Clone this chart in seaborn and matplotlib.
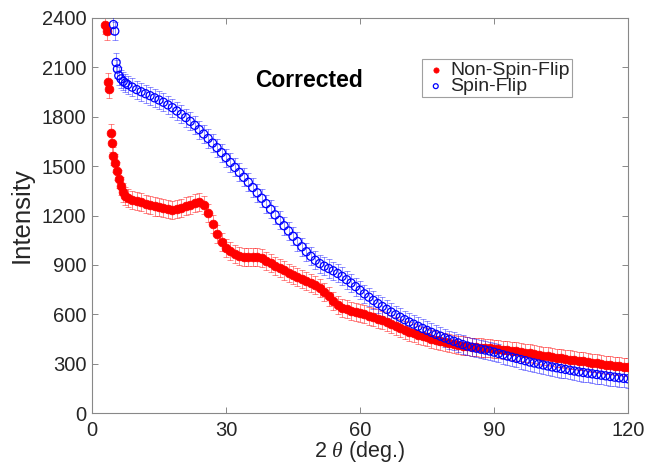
import numpy as np
import pandas as pd
import matplotlib
matplotlib.use("Agg")
import matplotlib.pyplot as plt
import seaborn as sns

# ---- data ----
nsf_x = [3.0, 3.3, 3.6, 3.9, 4.2, 4.5, 4.8, 5.1, 5.5, 6.0, 6.5, 7.0, 7.5,
         8, 9, 10, 11, 12, 13, 14, 15, 16, 17, 18, 19, 20, 21, 22, 23, 24, 25,
         26, 27, 28, 29, 30, 31, 32, 33, 34, 35, 36, 37, 38, 39, 40, 41, 42, 43,
         44, 45, 46, 47, 48, 49, 50, 51, 52, 53, 54, 55, 56, 57, 58, 59, 60, 61,
         62, 63, 64, 65, 66, 67, 68, 69, 70, 71, 72, 73, 74, 75, 76, 77, 78, 79,
         80, 81, 82, 83, 84, 85, 86, 87, 88, 89, 90, 91, 92, 93, 94, 95, 96, 97,
         98, 99, 100, 101, 102, 103, 104, 105, 106, 107, 108, 109, 110, 111,
         112, 113, 114, 115, 116, 117, 118, 119, 120]
nsf_y = [2360, 2320, 2010, 1970, 1700, 1640, 1560, 1520, 1470, 1420, 1380, 1340, 1320,
         1305, 1295, 1290, 1280, 1270, 1262, 1255, 1250, 1245, 1240, 1236, 1240, 1248,
         1258, 1266, 1275, 1280, 1265, 1215, 1150, 1090, 1040, 1005, 985, 965, 952,
         946, 946, 950, 950, 940, 925, 910, 895, 880, 866, 852, 840, 826, 813, 802,
         790, 776, 757, 735, 708, 680, 656, 640, 630, 622, 615, 610, 602, 592, 582,
         574, 564, 552, 541, 530, 518, 506, 495, 486, 476, 468, 460, 452, 445, 438,
         431, 425, 420, 415, 410, 405, 402, 400, 398, 396, 394, 391, 388, 385, 381,
         378, 374, 370, 366, 362, 357, 352, 348, 344, 340, 336, 332, 328, 325, 321,
         318, 314, 310, 306, 302, 298, 294, 290, 287, 284, 282, 280]

sf_x = [4.8, 5.1, 5.4, 5.7, 6.0, 6.5, 7.0, 7.5,
        8, 9, 10, 11, 12, 13, 14, 15, 16, 17, 18, 19, 20, 21, 22, 23, 24, 25,
        26, 27, 28, 29, 30, 31, 32, 33, 34, 35, 36, 37, 38, 39, 40, 41, 42, 43,
        44, 45, 46, 47, 48, 49, 50, 51, 52, 53, 54, 55, 56, 57, 58, 59, 60, 61,
        62, 63, 64, 65, 66, 67, 68, 69, 70, 71, 72, 73, 74, 75, 76, 77, 78, 79,
        80, 81, 82, 83, 84, 85, 86, 87, 88, 89, 90, 91, 92, 93, 94, 95, 96, 97,
        98, 99, 100, 101, 102, 103, 104, 105, 106, 107, 108, 109, 110, 111,
        112, 113, 114, 115, 116, 117, 118, 119, 120]
sf_y = [2360, 2320, 2130, 2090, 2050, 2030, 2015, 2005,
        1995, 1980, 1965, 1952, 1940, 1928, 1915, 1902, 1888, 1872, 1855, 1835,
        1815, 1795, 1772, 1748, 1722, 1695, 1668, 1640, 1612, 1582, 1552, 1522,
        1492, 1462, 1432, 1402, 1370, 1338, 1305, 1272, 1238, 1204, 1170, 1138,
        1106, 1074, 1042, 1010, 980, 952, 928, 908, 892, 878, 864, 848, 830, 810,
        790, 768, 746, 724, 704, 684, 665, 647, 630, 613, 597, 582, 567, 553, 540,
        527, 514, 502, 490, 478, 467, 456, 446, 436, 426, 416, 407, 400, 394, 388,
        383, 377, 370, 362, 354, 346, 339, 332, 325, 318, 310, 304, 298, 292, 286,
        280, 275, 270, 265, 260, 255, 250, 246, 242, 238, 234, 230, 226, 222, 218,
        214, 211, 208]

nsf_err = 55
sf_err = 55

x_ticks = [0, 30, 60, 90, 120]
y_ticks = [0, 300, 600, 900, 1200, 1500, 1800, 2100, 2400]

series_names = ["Non-Spin-Flip", "Spin-Flip"]

# ---- style ----
sns.set_style("ticks")
plt.rcParams["font.family"] = ["Liberation Sans", "DejaVu Sans"]
plt.rcParams["mathtext.fontset"] = "custom"
plt.rcParams["mathtext.it"] = "Liberation Serif:italic"

fig = plt.figure(figsize=(6.46, 4.65), dpi=100)
ax = fig.add_axes([0.1424, 0.1118, 0.8297, 0.8495])

red = "#ff0000"
blue = "#0000ff"

df_nsf = pd.DataFrame({"x": nsf_x, "y": nsf_y, "series": series_names[0]})
df_sf = pd.DataFrame({"x": sf_x, "y": sf_y, "series": series_names[1]})

# error bars
ax.errorbar(df_nsf["x"], df_nsf["y"], yerr=nsf_err, fmt="none", ecolor=red,
            elinewidth=0.6, capsize=2.5, capthick=0.6, alpha=0.55, zorder=2)
ax.errorbar(df_sf["x"], df_sf["y"], yerr=sf_err, fmt="none", ecolor=blue,
            elinewidth=0.6, capsize=2.5, capthick=0.6, alpha=0.5, zorder=3)

sns.scatterplot(data=df_nsf, x="x", y="y", ax=ax, color=red, s=40,
                marker="o", edgecolor=red, linewidth=0.5, label=series_names[0],
                zorder=4)
sns.scatterplot(data=df_sf, x="x", y="y", ax=ax, s=34, marker="o",
                facecolor="none", edgecolor=blue, linewidth=0.9,
                label=series_names[1], zorder=5)

ax.set_xlim(0, 120)
ax.set_ylim(0, 2400)
ax.set_xticks(x_ticks)
ax.set_yticks(y_ticks)
ax.set_xticklabels([str(t) for t in x_ticks])
ax.set_yticklabels([str(t) for t in y_ticks])

ax.tick_params(direction="in", top=True, right=True, length=4, width=0.7,
               color="#888888", labelsize=14.5, labelcolor="#262626")
ax.tick_params(axis="x", pad=6)
ax.tick_params(axis="y", pad=4)
for sp in ax.spines.values():
    sp.set_visible(True)
    sp.set_color("#888888")
    sp.set_linewidth(0.8)

ax.set_xlabel(r"2 $\theta$ (deg.)", fontsize=15.5, color="#262626", labelpad=-1)
ax.set_ylabel("Intensity", fontsize=18.5, color="#262626", labelpad=6)

ax.text(48.5, 2020, "Corrected", fontsize=16.5, fontweight="bold",
        ha="center", va="center", color="black")

leg = ax.legend(loc="upper left", bbox_to_anchor=(0.616, 0.896), frameon=True,
                fancybox=False, edgecolor="#888888", fontsize=14,
                borderpad=0.1, labelspacing=-0.05, handletextpad=0.15,
                handlelength=1.2, borderaxespad=0, markerscale=0.6)
leg.get_frame().set_linewidth(0.8)
for t in leg.get_texts():
    t.set_color("#262626")

fig.savefig("out.png", dpi=100)
